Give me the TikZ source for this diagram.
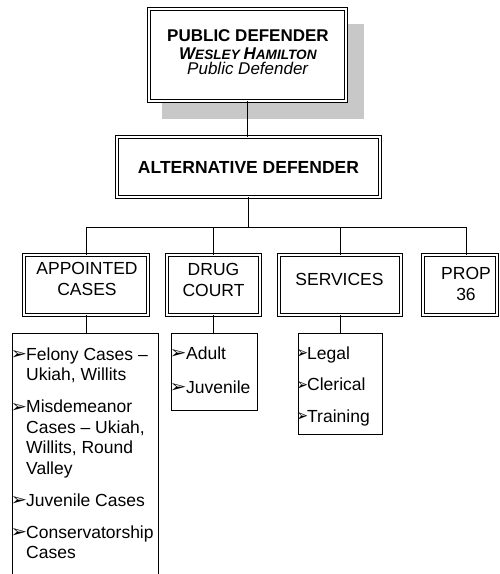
\documentclass[tikz,border=0pt]{standalone}
\usepackage{fontspec}
\usepackage{graphicx}
\setmainfont{Liberation Sans}
\newfontfamily\symfont{DejaVu Sans}
\newcommand{\bulx}[2]{\makebox[#1][l]{\hspace*{-1.5pt}\raisebox{0.5pt}{\resizebox{#2}{9pt}{\symfont ➢}}}}
\newcommand{\fs}[2]{\fontsize{#1}{#2}\selectfont}
\definecolor{shadowgray}{RGB}{200,200,200}
\begin{document}
\begin{tikzpicture}[x=1pt,y=-1pt,
  dbox/.style={draw, double, double distance=2.4pt, line width=0.8pt, fill=white, inner sep=0pt, outer sep=0pt},
  lbox/.style={draw, line width=0.9pt, inner sep=0pt, outer sep=0pt, anchor=north west},
  conn/.style={line width=0.9pt},
  rowtext/.style={align=center, inner sep=0pt, font=\fs{17.5}{21}},
  listtext/.style={align=left, inner sep=0pt, anchor=north west, font=\fs{17.5}{20.5}},
]
\useasboundingbox (0,0) rectangle (500,574);
\clip (0,0) rectangle (500,574);
% shadow and top box
\fill[shadowgray] (162,24) rectangle (364,119);
\node (pd) [dbox, minimum width=197pt, minimum height=92pt] at (247.5,55) {};
\node (pdtext) [align=center, inner sep=0pt, font=\fs{17}{15.5}] at (248,52.5)
  {\textbf{PUBLIC DEFENDER}\\[2pt]
   \textbf{\textit{W\fs{13.6}{15.5}ESLEY \fs{17}{15.5}H\fs{13.6}{15.5}AMILTON}}\\
   \textit{Public Defender}};
% alternative defender
\node (alt) [dbox, minimum width=263pt, minimum height=60pt, font=\bfseries\fs{17.5}{21}] at (248.5,167) {ALTERNATIVE DEFENDER};
\draw[conn] (pd.south) -- (pd.south |- alt.north);
\coordinate (bus) at (248.5,227);
% row boxes
\node (app) [dbox, minimum width=124pt, minimum height=60pt] at (86,285) {};
\node (drug) [dbox, minimum width=93pt, minimum height=60pt] at (213.5,285) {};
\node (serv) [dbox, minimum width=122pt, minimum height=60pt] at (340,285) {};
\node (prop) [dbox, minimum width=74pt, minimum height=60pt] at (460,285) {};
\node (apptext) [rowtext] at (87,279) {APPOINTED\\CASES};
\node (drugtext) [rowtext] at (213.5,279.5) {DRUG\\COURT};
\node (servtext) [rowtext] at (339.5,279.5) {SERVICES};
\node (proptext) [rowtext] at (466,283.5) {PROP\\36};
% connectors
\draw[conn] (alt.south) -- (alt.south |- bus);
\draw[conn] (app.north) -- (app.north |- bus) -- (proptext.north |- bus) -- (proptext.north |- prop.north);
\draw[conn] (drug.north) -- (drug.north |- bus);
\draw[conn] (serv.north) -- (serv.north |- bus);
% list boxes
\node (appl) [lbox, minimum width=146pt, minimum height=270pt] at (12,333) {};
\node (drugl) [lbox, minimum width=86pt, minimum height=77pt] at (171,333) {};
\node (servl) [lbox, minimum width=84pt, minimum height=101pt] at (298,333) {};
\draw[conn] (app.south) -- (app.south |- appl.north);
\draw[conn] (drug.south) -- (drug.south |- drugl.north);
\draw[conn] (serv.south) -- (serv.south |- servl.north);
% list texts
\node (applt) [listtext] at (12,346) {\rule{0pt}{14pt}\bulx{14pt}{16.5pt}Felony Cases –\\
  \hspace*{14pt}Ukiah, Willits\\[11.5pt]
  \bulx{14pt}{16.5pt}Misdemeanor\\
  \hspace*{14pt}Cases – Ukiah,\\
  \hspace*{14pt}Willits, Round\\
  \hspace*{14pt}Valley\\[11.5pt]
  \bulx{14pt}{16.5pt}Juvenile Cases\\[11.5pt]
  \bulx{14pt}{16.5pt}Conservatorship\\
  \hspace*{14pt}Cases};
\node (druglt) [listtext] at (171,345) {\rule{0pt}{14pt}\bulx{15pt}{17pt}Adult\\[13.5pt]
  \bulx{15pt}{17pt}Juvenile};
\node (servlt) [listtext] at (298,345) {\rule{0pt}{14pt}\bulx{9pt}{11.5pt}Legal\\[11pt]
  \bulx{9pt}{11.5pt}Clerical\\[11pt]
  \bulx{9pt}{11.5pt}Training};
\end{tikzpicture}
\end{document}
